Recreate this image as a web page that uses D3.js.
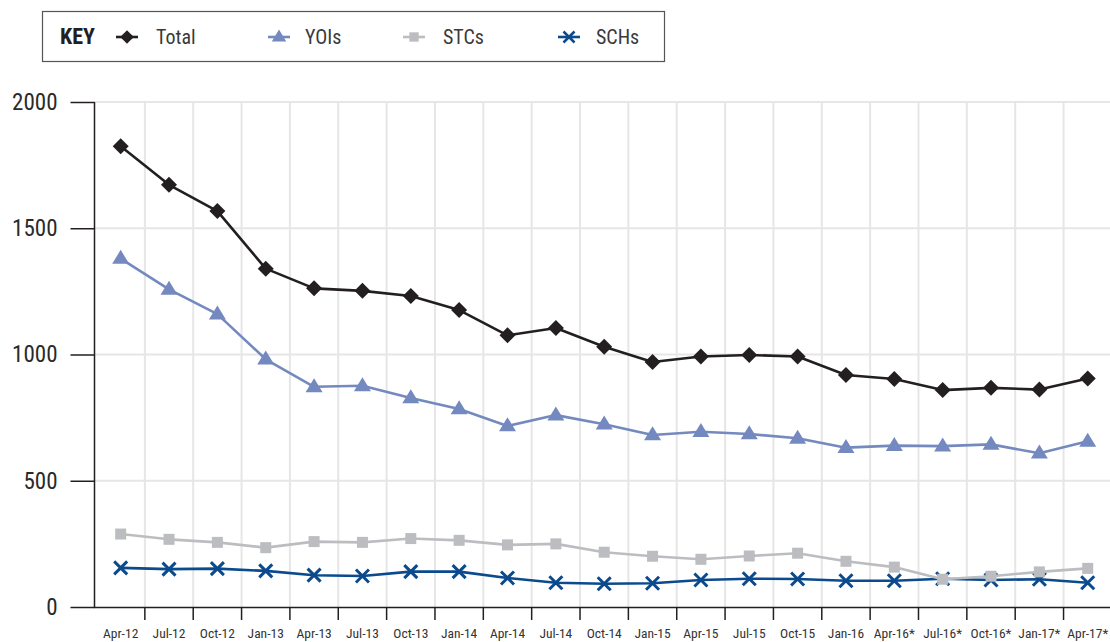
<!DOCTYPE html>
<html><head><meta charset="utf-8">
<script src="https://cdn.jsdelivr.net/npm/d3@7"></script>
<style>
html,body{margin:0;padding:0;background:#fff;}
svg{display:block;font-family:"Liberation Sans Narrow","Roboto Condensed","DejaVu Sans Condensed",sans-serif;font-stretch:condensed;}
</style></head>
<body><svg id="c" width="1110" height="642"></svg>
<script>
const categories = ["Apr-12","Jul-12","Oct-12","Jan-13","Apr-13","Jul-13","Oct-13","Jan-14","Apr-14","Jul-14","Oct-14","Jan-15","Apr-15","Jul-15","Oct-15","Jan-16","Apr-16*","Jul-16*","Oct-16*","Jan-17*","Apr-17*"];
const total = [1825,1672,1568,1340,1262,1252,1232,1176,1076,1105,1031,970,992,998,992,919,903,859,868,861,905];
const yois  = [1380,1258,1160,981,872,876,828,784,717,760,724,681,694,685,668,631,639,637,644,609,656];
const stcs  = [289,268,256,235,259,256,271,264,246,250,217,201,189,202,213,181,158,110,122,139,153];
const schs  = [155,150,152,143,126,123,140,140,115,96,92,94,107,112,111,104,104,112,107,110,96];
const yTicks = [0,500,1000,1500,2000];
const seriesNames = ["Total","YOIs","STCs","SCHs"];

const colors = {Total:"#231f20", YOIs:"#7389bf", STCs:"#bcbdc0", SCHs:"#0b4a8c"};
const FONT = '"Liberation Sans Narrow","Roboto Condensed","DejaVu Sans Condensed",sans-serif';

const svg = d3.select("#c");
const x = d3.scaleBand().domain(categories).range([96.5, 1111.9]).padding(0);
const y = d3.scaleLinear().domain([0,2000]).range([607,102]);
const cx = d => x(d) + x.bandwidth()/2;

// gridlines
const grid = svg.append("g");
grid.selectAll("line.h").data(yTicks.filter(d=>d>0)).join("line")
  .attr("x1",95).attr("x2",1110).attr("y1",d=>y(d)).attr("y2",d=>y(d))
  .attr("stroke","#e6e6e6").attr("stroke-width",2);
grid.selectAll("line.v").data(categories.slice(1)).join("line")
  .attr("x1",d=>x(d)).attr("x2",d=>x(d)).attr("y1",y(2000)).attr("y2",y(0))
  .attr("stroke","#e6e6e6").attr("stroke-width",2);

// y axis
const yAxis = d3.axisLeft(y).tickValues(yTicks).tickSize(24).tickPadding(13).tickFormat(d3.format("d"));
const gy = svg.append("g").attr("transform","translate(94.5,0)").call(yAxis);
gy.select(".domain").attr("stroke","#231f20").attr("stroke-width",1.5).attr("d","M0,102V607.5");
gy.selectAll(".tick line").attr("stroke","#231f20").attr("stroke-width",1.5);
gy.selectAll(".tick text").attr("font-size",23).attr("fill","#2a2a2a").style("font-family",FONT);

// x axis
const xAxis = d3.axisBottom(x).tickSize(0).tickPadding(0);
const gx = svg.append("g").attr("transform","translate(0,607.5)").call(xAxis);
gx.select(".domain").attr("stroke","#231f20").attr("stroke-width",1.5).attr("d","M93.8,0H1110");
gx.selectAll(".tick text").attr("font-size",13.5).attr("fill","#333").attr("y",30.5).attr("dy",0)
  .style("font-family",FONT);
svg.append("g").selectAll("line").data(categories.slice(1)).join("line")
  .attr("x1",d=>x(d)).attr("x2",d=>x(d)).attr("y1",607.5).attr("y2",620)
  .attr("stroke","#231f20").attr("stroke-width",1.5);

// marker drawing
function marker(g, name, px, py, s) {
  const c = colors[name];
  s = s || 1;
  if (name==="Total") {
    const r = 8*s;
    g.append("path").attr("d",`M${px},${py-r}L${px+r},${py}L${px},${py+r}L${px-r},${py}Z`).attr("fill",c);
  } else if (name==="YOIs") {
    const w = 8.5*s, h = 14*s;
    g.append("path").attr("d",`M${px},${py-h*0.62}L${px+w},${py+h*0.38}L${px-w},${py+h*0.38}Z`).attr("fill",c);
  } else if (name==="STCs") {
    const r = 5.5*s;
    g.append("rect").attr("x",px-r).attr("y",py-r).attr("width",2*r).attr("height",2*r).attr("fill",c);
  } else {
    const r = 6.5*s;
    g.append("path").attr("d",`M${px-r},${py-r}L${px+r},${py+r}M${px+r},${py-r}L${px-r},${py+r}`)
      .attr("stroke",c).attr("stroke-width",3*s).attr("fill","none");
  }
}

const data = {Total:total, YOIs:yois, STCs:stcs, SCHs:schs};
const line = d3.line().x(d=>cx(d.c)).y(d=>y(d.v));
["SCHs","STCs","YOIs","Total"].forEach(name=>{
  const pts = categories.map((c,i)=>({c, v:data[name][i]}));
  const g = svg.append("g");
  g.append("path").datum(pts).attr("d",line).attr("fill","none")
    .attr("stroke",colors[name]).attr("stroke-width",2.6).attr("stroke-linejoin","round");
  pts.forEach(p=>marker(g,name,cx(p.c),y(p.v)));
});

// legend
const lg = svg.append("g");
lg.append("rect").attr("x",42.5).attr("y",11.5).attr("width",622).attr("height",50)
  .attr("fill","#fff").attr("stroke","#555").attr("stroke-width",1.2);
lg.append("text").attr("x",60).attr("y",44).text("KEY").attr("font-size",22).attr("font-weight","bold").attr("fill","#231f20");
const legX = [{n:"Total",m:127,t:156},{n:"YOIs",m:279,t:305},{n:"STCs",m:414,t:443},{n:"SCHs",m:569,t:596}];
legX.forEach(L=>{
  lg.append("line").attr("x1",L.m-11).attr("x2",L.m+11).attr("y1",37).attr("y2",37)
    .attr("stroke",colors[L.n]).attr("stroke-width",2.6);
  marker(lg,L.n,L.m,37,0.85);
  lg.append("text").attr("x",L.t).attr("y",44).text(L.n).attr("font-size",20).attr("fill","#3a3a3a");
});
</script></body></html>
